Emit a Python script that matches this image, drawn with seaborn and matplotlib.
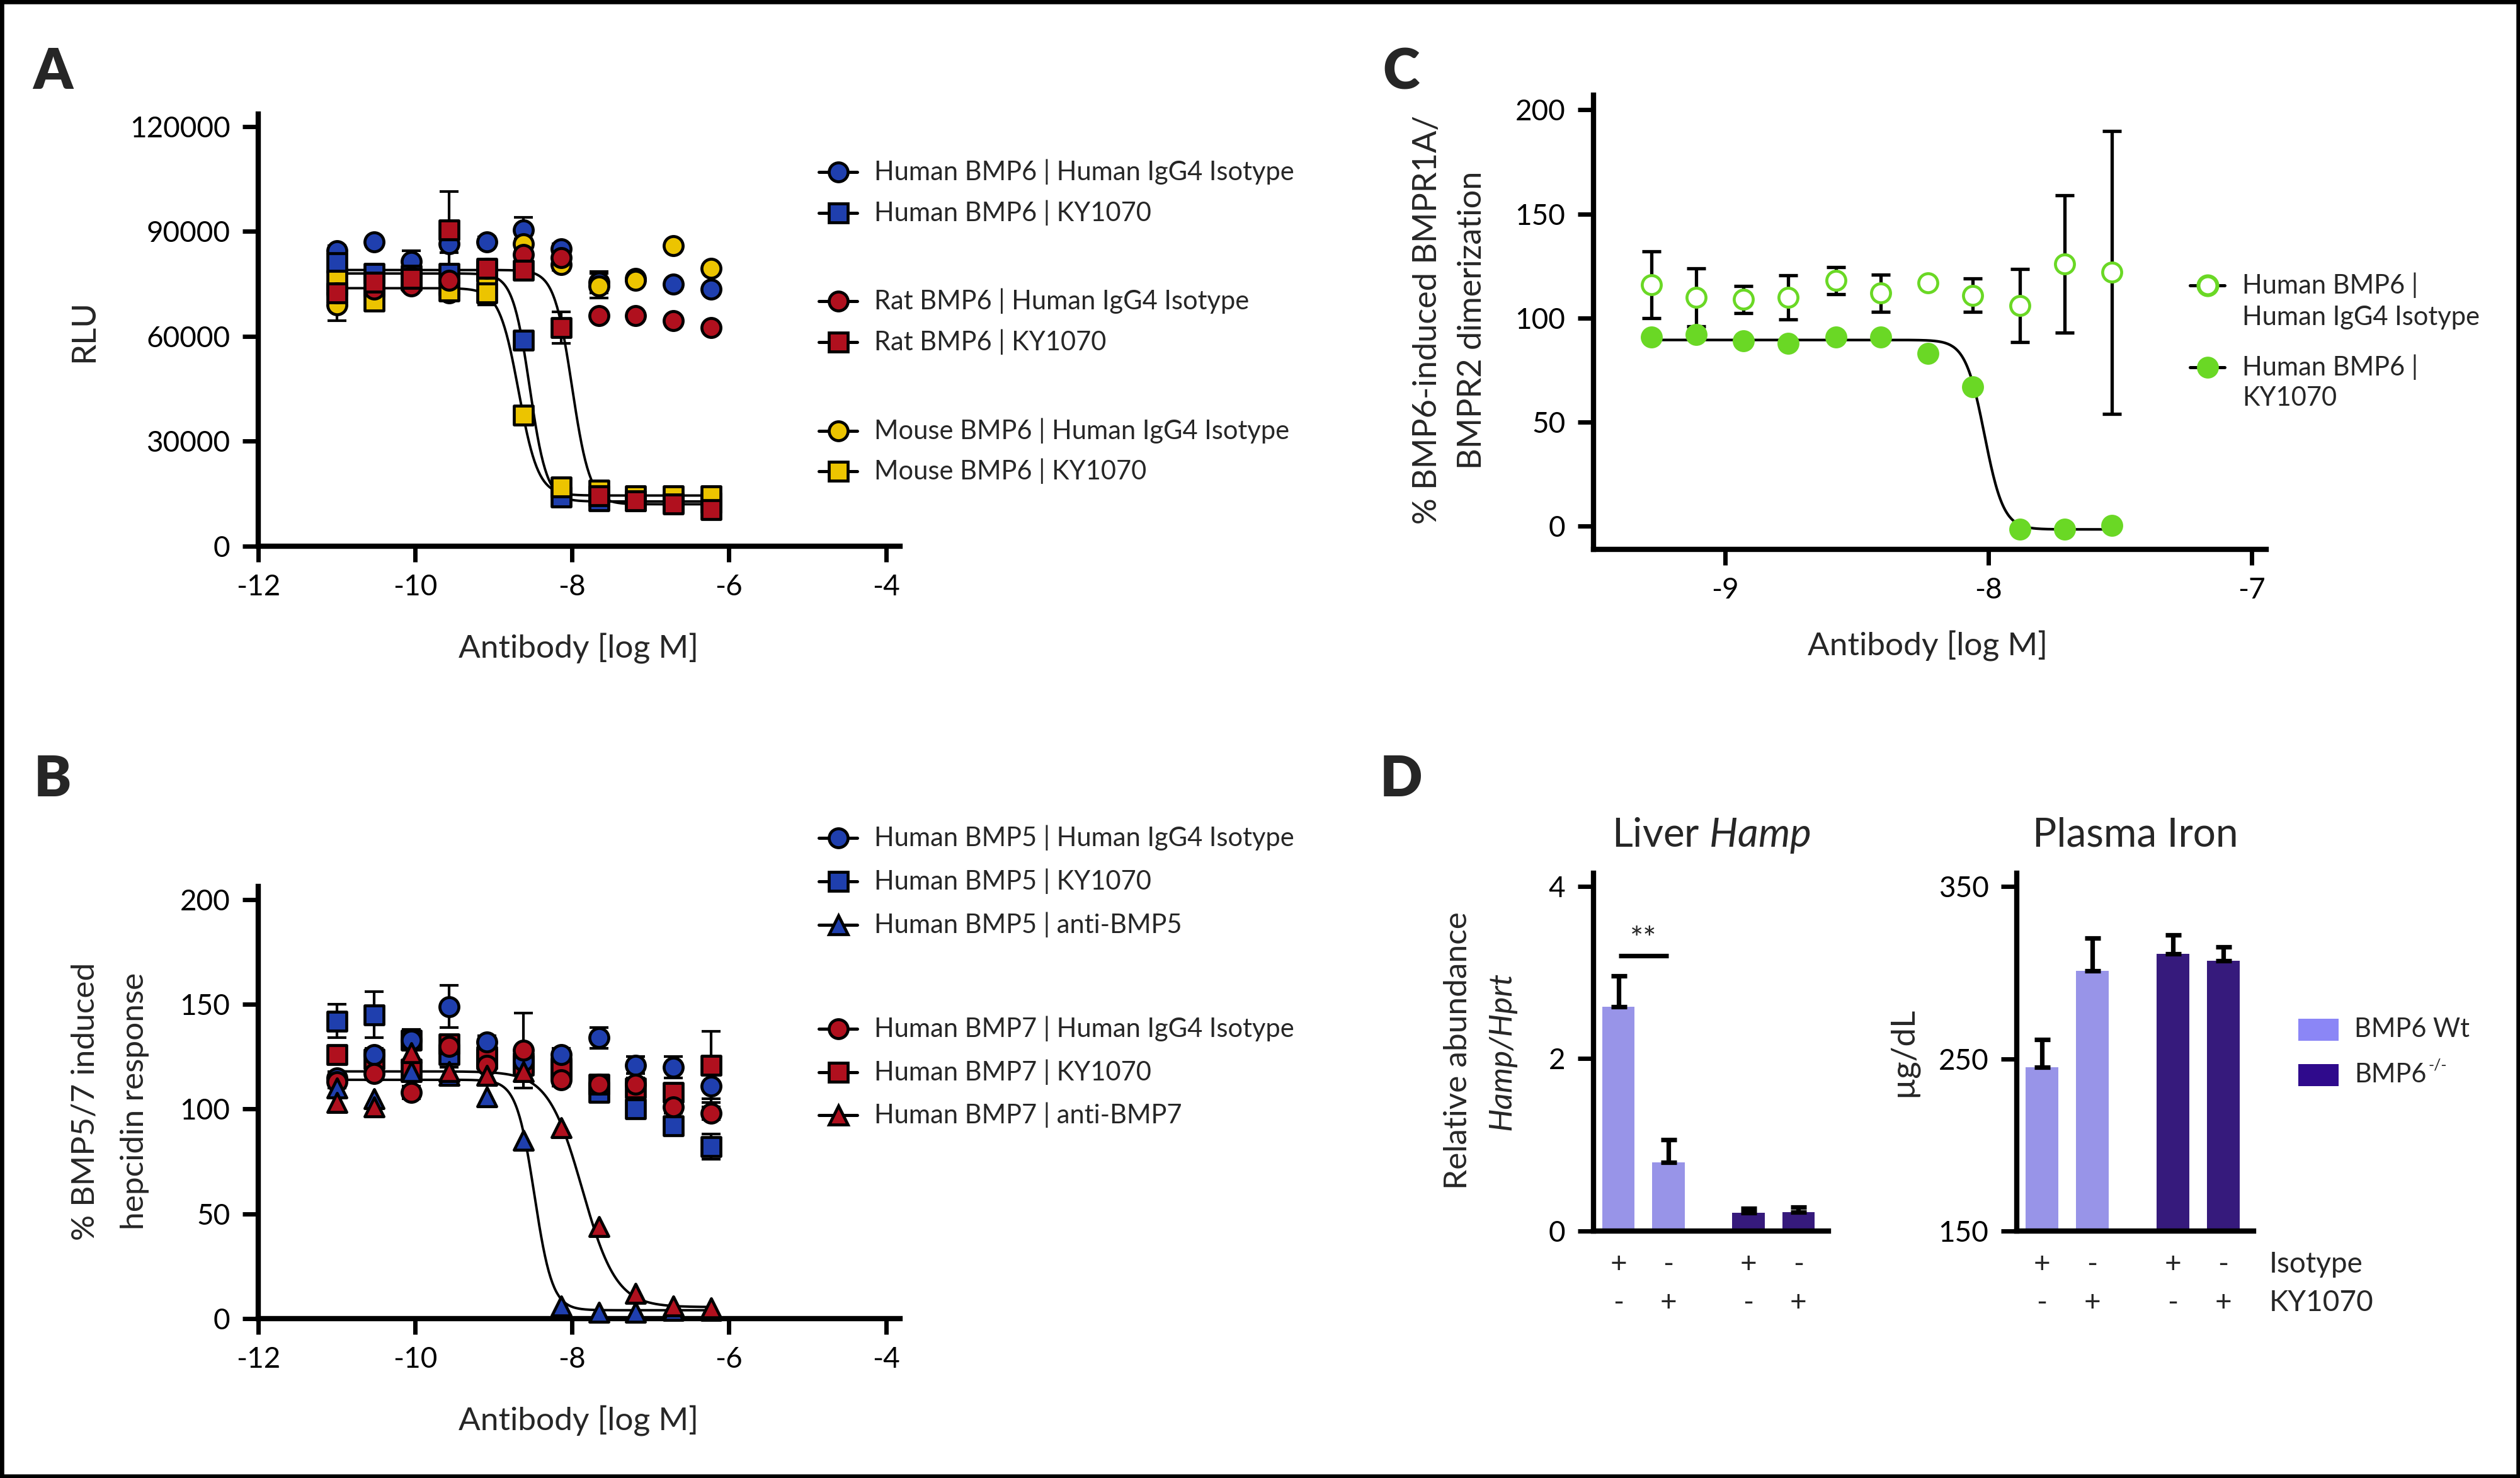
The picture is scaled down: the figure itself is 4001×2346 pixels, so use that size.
import numpy as np
import pandas as pd
import seaborn as sns
import matplotlib.pyplot as plt
from matplotlib.lines import Line2D
from matplotlib.patches import Rectangle

# ---------------- data ----------------
# antibody doses (log M), 3-fold dilution series
dose_ab = [-11.0, -10.52, -10.05, -9.57, -9.09, -8.62, -8.14, -7.66, -7.19, -6.71, -6.23]
# panel C doses, 1.5-fold dilution series
dose_c = [-9.28, -9.11, -8.93, -8.76, -8.58, -8.41, -8.23, -8.06, -7.88, -7.71, -7.53]

# Panel A - RLU
hu6_iso = [84500, 87000, 81500, 86500, 87000, 90500, 85000, 75500, 76500, 75000, 73500]
hu6_iso_err = [1500, 1000, 3000, 2500, 1500, 3500, 1500, 3000, 1000, 1000, 1000]
hu6_ky = [81000, 78000, 77500, 78000, 79000, 59000, 14000, 13000, 13000, 12500, 12500]
hu6_ky_err = [3500, 1500, 1500, 1500, 1500, 1000, 1000, 1000, 800, 800, 800]
rat6_iso = [72500, 73500, 74500, 76000, 79500, 83500, 82500, 66000, 66000, 64500, 62500]
rat6_iso_err = [1500, 1500, 1500, 1500, 1500, 1500, 1500, 1000, 1000, 1000, 1000]
rat6_ky = [72500, 75500, 76500, 90500, 79500, 79000, 62500, 14500, 13000, 12000, 10500]
rat6_ky_err = [2500, 4000, 2000, 11000, 2500, 2500, 4500, 1000, 800, 800, 800]
mo6_iso = [69000, 72000, 77000, 72500, 76000, 86500, 80500, 74500, 76000, 86000, 79500]
mo6_iso_err = [4500, 1500, 1500, 1500, 1500, 1500, 1500, 3500, 1000, 1000, 1000]
mo6_ky = [76000, 70000, 76000, 73000, 72500, 37500, 17000, 16000, 14500, 14500, 14500]
mo6_ky_err = [2000, 1500, 1500, 1500, 3500, 1000, 1000, 1000, 800, 800, 800]
# 4PL fit parameters (human, rat, mouse KY1070)
fit_a_top = [78000, 79000, 73800]
fit_a_bottom = [12800, 12000, 14500]
fit_a_logic50 = [-8.54, -8.0, -8.68]
fit_a_hill = [4.0, 3.8, 3.5]

# Panel B - % BMP5/7 induced hepcidin response
hu5_iso = [115, 126, 133, 149, 132, 123, 126, 134, 121, 120, 111]
hu5_iso_err = [3, 3, 4, 10, 3, 3, 3, 5, 4, 5, 8]
hu5_ky = [142, 145, 133, 126, 124, 122, 120, 108, 100, 92, 82]
hu5_ky_err = [8, 11, 5, 6, 4, 4, 4, 4, 4, 4, 6]
hu5_anti = [110, 105, 118, 116, 106, 85, 6, 3, 3, 4, 4]
hu7_iso = [113, 117, 108, 130, 121, 128, 114, 112, 112, 101, 98]
hu7_iso_err = [3, 3, 3, 5, 3, 18, 3, 3, 3, 3, 3]
hu7_ky = [126, 124, 119, 131, 125, 121, 119, 112, 110, 108, 121]
hu7_ky_err = [3, 3, 3, 4, 3, 5, 3, 3, 3, 3, 16]
hu7_anti = [103, 101, 127, 118, 116, 118, 91, 44, 12, 6, 5]
# 4PL fit parameters (anti-BMP5, anti-BMP7)
fit_b_top = [114, 118]
fit_b_bottom = [4, 5.5]
fit_b_logic50 = [-8.48, -7.87]
fit_b_hill = [3.8, 2.0]

# Panel C - % BMP6-induced BMPR1A/BMPR2 dimerization
c_iso = [116, 110, 109, 110, 118, 112, 117, 111, 106, 126, 122]
c_iso_err = [16, 14, 6.5, 10.5, 6.5, 9, 1.5, 8, 17.5, 33, 68]
c_ky = [91, 92, 89, 88, 91, 91, 83, 67, -1.5, -1.5, 0.5]
fit_c_top, fit_c_bottom, fit_c_logic50, fit_c_hill = 89.5, -1.5, -8.015, 12.0

# Panel D - mice
d_genotype = ['BMP6 Wt', 'BMP6 Wt', 'BMP6-/-', 'BMP6-/-']
d_isotype = ['+', '-', '+', '-']
d_ky1070 = ['-', '+', '-', '+']
hamp_mean = [2.6, 0.8, 0.21, 0.22]
hamp_sem = [0.36, 0.26, 0.05, 0.06]
iron_mean = [245, 301, 311, 307]
iron_sem = [16, 19, 11, 8]

# ---------------- style ----------------
BLUE = '#1f3fae'
RED = '#b0101e'
YELLOW = '#ecc400'
GREEN = '#6ad825'
LIGHT = '#8b86f6'
DARK = '#2f0a8c'

sns.set_style('ticks')
plt.rcParams['font.family'] = ['Lato', 'DejaVu Sans']
plt.rcParams['axes.unicode_minus'] = False
plt.rcParams['mathtext.fontset'] = 'custom'
plt.rcParams['mathtext.rm'] = 'Lato'
plt.rcParams['mathtext.it'] = 'Lato:italic'

TICK_FS = 16.5
LEG_FS = 15
LAB_FS = 18.5

W, H = 4001, 2346
fig = plt.figure(figsize=(W / 200, H / 200), dpi=200)


def px_axes(x0, y0, x1, y1):
    # axes from pixel box (left, top, right, bottom)
    return fig.add_axes([x0 / W, 1 - y1 / H, (x1 - x0) / W, (y1 - y0) / H])


def ftext(x, y, s, **kw):
    kw.setdefault('ha', 'center')
    kw.setdefault('va', 'center')
    return fig.text(x / W, 1 - y / H, s, **kw)


def style_axis(ax, tick_len=9):
    for s in ['top', 'right']:
        ax.spines[s].set_visible(False)
    for s in ['left', 'bottom']:
        ax.spines[s].set_linewidth(3)
        ax.spines[s].set_color('black')
        ax.spines[s].set_capstyle('projecting')
    ax.tick_params(axis='both', width=2.5, length=tick_len, labelsize=TICK_FS,
                   direction='out', color='black', labelcolor='black', pad=7)


def four_pl(x, top, bottom, logic50, hill):
    return bottom + (top - bottom) / (1 + 10 ** ((x - logic50) * hill))


def draw_points(ax, x, y, err, marker, face, edge='black', z=3, size=118, elw=1.5):
    if err is not None:
        ax.errorbar(x, y, yerr=err, fmt='none', ecolor='black', elinewidth=elw,
                    capsize=5.5, capthick=elw, zorder=z - 0.5)
    sns.scatterplot(x=x, y=y, marker=marker, color=face, edgecolor=edge,
                    linewidth=1.7, s=size, ax=ax, zorder=z, clip_on=False, legend=False)


def draw_fit(ax, x, top, bottom, logic50, hill, lw=1.4):
    xs = np.linspace(min(x), max(x), 400)
    sns.lineplot(x=xs, y=four_pl(xs, top, bottom, logic50, hill), color='black',
                 lw=lw, ax=ax, zorder=2.5, errorbar=None)


def legend_entry(x0, y, marker, face, label, edge='black', length=61, gap=27, fs=LEG_FS, mew=1.7):
    yy = 1 - y / H
    fig.add_artist(Line2D([x0 / W, (x0 + length) / W], [yy, yy], transform=fig.transFigure,
                          color='black', lw=1.8))
    fig.add_artist(Line2D([(x0 + length / 2) / W], [yy], transform=fig.transFigure,
                          marker=marker, markersize=10.8, markerfacecolor=face,
                          markeredgecolor=edge, markeredgewidth=mew, linestyle='none'))
    ftext(x0 + length + gap, y, label, ha='left', fontsize=fs)


# ---------------- Panel A ----------------
axA = px_axes(410, 181, 1429, 867)
for fi in range(3):
    draw_fit(axA, dose_ab, fit_a_top[fi], fit_a_bottom[fi], fit_a_logic50[fi], fit_a_hill[fi])
draw_points(axA, dose_ab, hu6_iso, hu6_iso_err, 'o', BLUE)
draw_points(axA, dose_ab, hu6_ky, hu6_ky_err, 's', BLUE)
draw_points(axA, dose_ab, mo6_iso, mo6_iso_err, 'o', YELLOW)
draw_points(axA, dose_ab, mo6_ky, mo6_ky_err, 's', YELLOW)
draw_points(axA, dose_ab, rat6_iso, rat6_iso_err, 'o', RED)
draw_points(axA, dose_ab, rat6_ky, rat6_ky_err, 's', RED)
axA.set_xlim(-12, -3.82)
axA.set_ylim(0, 123600)
axA.set_xticks([-12, -10, -8, -6, -4])
axA.set_yticks([0, 30000, 60000, 90000, 120000])
axA.set_yticklabels(['0', '30000', '60000', '90000', '120000'])
style_axis(axA)
axA.set_xlabel('')
axA.set_ylabel('')
ftext(134, 525, 'RLU', rotation=90, fontsize=19)
ftext(918, 1029, 'Antibody [log M]', fontsize=LAB_FS)

legend_entry(1300, 273, 'o', BLUE, 'Human BMP6 | Human IgG4 Isotype')
legend_entry(1300, 338, 's', BLUE, 'Human BMP6 | KY1070')
legend_entry(1300, 478, 'o', RED, 'Rat BMP6 | Human IgG4 Isotype')
legend_entry(1300, 543, 's', RED, 'Rat BMP6 | KY1070')
legend_entry(1300, 684, 'o', YELLOW, 'Mouse BMP6 | Human IgG4 Isotype')
legend_entry(1300, 748, 's', YELLOW, 'Mouse BMP6 | KY1070')

# ---------------- Panel B ----------------
axB = px_axes(410, 1407, 1429, 2093)
for fi in range(2):
    draw_fit(axB, dose_ab, fit_b_top[fi], fit_b_bottom[fi], fit_b_logic50[fi], fit_b_hill[fi])
draw_points(axB, dose_ab, hu5_ky, hu5_ky_err, 's', BLUE)
draw_points(axB, dose_ab, hu7_ky, hu7_ky_err, 's', RED)
draw_points(axB, dose_ab, hu5_iso, hu5_iso_err, 'o', BLUE)
draw_points(axB, dose_ab, hu7_iso, hu7_iso_err, 'o', RED)
draw_points(axB, dose_ab, hu5_anti, None, '^', BLUE)
draw_points(axB, dose_ab, hu7_anti, None, '^', RED)
axB.set_xlim(-12, -3.82)
axB.set_ylim(0, 206.3)
axB.set_xticks([-12, -10, -8, -6, -4])
axB.set_yticks([0, 50, 100, 150, 200])
style_axis(axB)
axB.set_xlabel('')
axB.set_ylabel('')
ftext(136, 1748, '% BMP5/7 induced', rotation=90, fontsize=LAB_FS)
ftext(214, 1748, 'hepcidin response', rotation=90, fontsize=LAB_FS)
ftext(918, 2255, 'Antibody [log M]', fontsize=LAB_FS)

legend_entry(1300, 1330, 'o', BLUE, 'Human BMP5 | Human IgG4 Isotype')
legend_entry(1300, 1399, 's', BLUE, 'Human BMP5 | KY1070')
legend_entry(1300, 1468, '^', BLUE, 'Human BMP5 | anti-BMP5')
legend_entry(1300, 1633, 'o', RED, 'Human BMP7 | Human IgG4 Isotype')
legend_entry(1300, 1702, 's', RED, 'Human BMP7 | KY1070')
legend_entry(1300, 1770, '^', RED, 'Human BMP7 | anti-BMP7')

# ---------------- Panel C ----------------
axC = px_axes(2530, 151, 3598, 872)
draw_fit(axC, dose_c, fit_c_top, fit_c_bottom, fit_c_logic50, fit_c_hill, lw=1.5)
draw_points(axC, dose_c, c_iso, c_iso_err, 'o', 'white', edge=GREEN, elw=1.9)
draw_points(axC, dose_c, c_ky, None, 'o', GREEN, edge=GREEN)
axC.set_xlim(-9.5, -6.945)
axC.set_ylim(-11.1, 207.1)
axC.set_xticks([-9, -8, -7])
axC.set_yticks([0, 50, 100, 150, 200])
style_axis(axC)
axC.set_xlabel('')
axC.set_ylabel('')
ftext(2267, 508, '% BMP6-induced BMPR1A/', rotation=90, fontsize=LAB_FS + 0.3)
ftext(2338, 508, 'BMPR2 dimerization', rotation=90, fontsize=LAB_FS + 0.3)
ftext(3061, 1025, 'Antibody [log M]', fontsize=LAB_FS)

legend_entry(3477, 453, 'o', 'white', 'Human BMP6 |', edge=GREEN, length=55, gap=28, mew=2.2)
ftext(3560, 504, 'Human IgG4 Isotype', ha='left', fontsize=LEG_FS)
legend_entry(3477, 583, 'o', GREEN, 'Human BMP6 |', edge=GREEN, length=55, gap=28)
ftext(3560, 632, 'KY1070', ha='left', fontsize=LEG_FS)

# ---------------- Panel D ----------------
gap = 0.6
geno_levels = ['BMP6 Wt', 'BMP6-/-']
d_pos = [i + gap * geno_levels.index(g) for i, g in enumerate(d_genotype)]
df_d = pd.DataFrame({'pos': d_pos, 'hamp': hamp_mean, 'iron': iron_mean, 'genotype': d_genotype})
pal = {'BMP6 Wt': LIGHT, 'BMP6-/-': DARK}

axL = px_axes(2530, 1386, 2903, 1954)
axP = px_axes(3202, 1386, 3578, 1954)
for ax, col, sem, ylim, yt in [(axL, 'hamp', hamp_sem, (0, 4.15), [0, 2, 4]),
                                (axP, 'iron', iron_sem, (150, 357.7), [150, 250, 350])]:
    sns.barplot(data=df_d, x='pos', y=col, hue='genotype', palette=pal, native_scale=True,
                dodge=False, width=0.65, errorbar=None, legend=False, linewidth=0, ax=ax)
    ax.errorbar(df_d['pos'], df_d[col], yerr=[np.zeros(len(sem)), sem], fmt='none',
                ecolor='black', elinewidth=2.6, capsize=4.5, capthick=2.6, zorder=3)
    ax.set_xlim(-0.5, 4.2)
    ax.set_ylim(*ylim)
    ax.set_yticks(yt)
    style_axis(ax)
    ax.tick_params(axis='x', length=0)
    ax.set_xticks([])
    ax.set_xlabel('')
    ax.set_ylabel('')
    tr = ax.get_xaxis_transform()
    for p, iso, ky in zip(d_pos, d_isotype, d_ky1070):
        ax.text(p, -0.093, iso, transform=tr, ha='center', va='center', fontsize=16.5)
        ax.text(p, -0.200, ky, transform=tr, ha='center', va='center', fontsize=16.5)

# significance
axL.plot([0, 1], [3.19, 3.19], color='black', lw=2.6, solid_capstyle='butt')
axL.text(0.5, 3.2, '**', ha='center', va='bottom', fontsize=18)

ftext(2717, 1326, r'Liver $Hamp$', fontsize=23)
ftext(3390, 1326, 'Plasma Iron', fontsize=23)
ftext(2315, 1668, 'Relative abundance', rotation=90, fontsize=LAB_FS)
ftext(2384, 1668, 'Hamp/Hprt', rotation=90, fontsize=LAB_FS, style='italic')
ftext(3021, 1670, '\u00b5g/dL', rotation=90, fontsize=19)
ftext(3603, 2007, 'Isotype', ha='left', fontsize=16.5)
ftext(3603, 2068, 'KY1070', ha='left', fontsize=16.5)

renderer = fig.canvas.get_renderer()
for y0, col, lab, sup in [(1617, LIGHT, 'BMP6 Wt', ''), (1689, DARK, 'BMP6', '-/-')]:
    fig.add_artist(Rectangle((3649 / W, 1 - (y0 + 35) / H), 64 / W, 35 / H,
                             transform=fig.transFigure, color=col, lw=0))
    t = ftext(3738, y0 + 17, lab, ha='left', fontsize=LEG_FS)
    if sup:
        bb = t.get_window_extent(renderer)
        ftext(bb.x1 + 3, y0 + 2, sup, ha='left', fontsize=9)

# panel letters
for lx, ly, letter in [(84, 115, 'A'), (84, 1238, 'B'), (2225, 115, 'C'), (2225, 1238, 'D')]:
    ftext(lx, ly, letter, fontsize=32, weight='heavy')

# outer frame
fig.add_artist(Rectangle((0, 0), 1, 1, transform=fig.transFigure, fill=False, ec='black', lw=4.5))

fig.savefig('out.png', dpi=200)
